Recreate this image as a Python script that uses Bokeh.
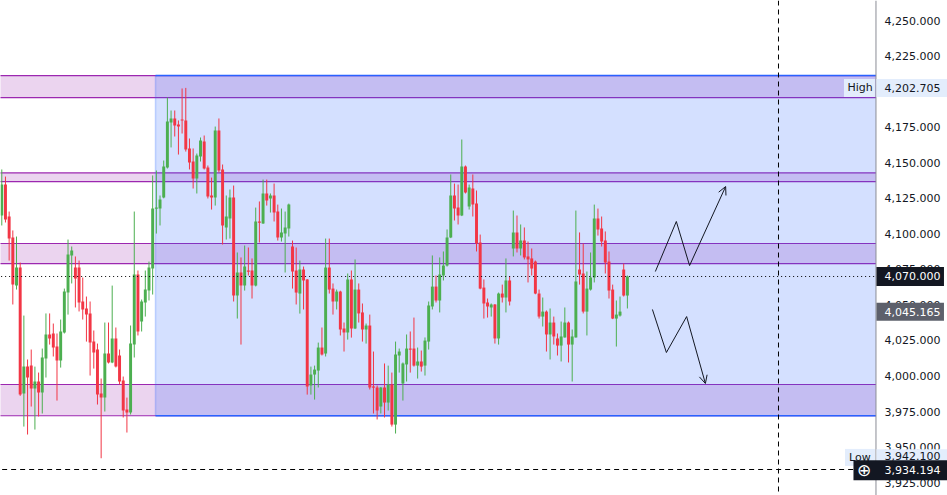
import numpy as np
from bokeh.plotting import figure
from bokeh.models import Range1d, Arrow, OpenHead, Span
from bokeh.core.properties import value
from bokeh.embed import file_html
from bokeh.resources import INLINE

# ---------------- data ----------------
opens = [4112.9, 4134.7, 4112.2, 4097.4, 4063.6, 4076.3, 3987.6, 4006.6, 4007.3, 3991.2,
         3996.1, 3988.3, 4012.3, 4029.2, 4029.9, 4020.7, 4010.9, 4030.6, 4058.7, 4084.8,
         4076.3, 4076.3, 4052.4, 4047.5, 4043.9, 4024.2, 4018.6, 3987.6, 3984.8, 4015.8,
         4009.5, 4026.4, 4014.4, 3996.8, 3976.4, 3974.3, 4022.1, 4071.4, 4038.3, 4051.7,
         4060.1, 4075.6, 4117.8, 4117.8, 4125.6, 4146.7, 4178.3, 4181.2, 4176.9, 4180.5,
         4179.8, 4160.1, 4150.9, 4138.9, 4154.4, 4165.0, 4146.7, 4127.0, 4125.6, 4172.7,
         4145.3, 4104.5, 4110.8, 4125.6, 4056.6, 4072.8, 4063.6, 4074.2, 4074.2, 4063.6,
         4108.7, 4107.3, 4128.4, 4124.9, 4127.0, 4115.7, 4097.4, 4100.2, 4103.8, 4091.1,
         4074.2, 4058.0, 4074.9, 4067.9, 3993.3, 4001.0, 4003.8, 4020.0, 4015.8, 4076.3,
         4061.5, 4052.4, 4059.4, 4033.4, 4030.6, 4067.9, 4033.4, 4060.8, 4044.7, 4032.7,
         4035.5, 3992.6, 3991.9, 3978.5, 3991.9, 3981.3, 3994.0, 3965.8, 4014.4, 3994.7,
         4008.1, 4019.3, 4019.3, 4007.3, 4010.2, 4007.3, 4024.2, 4048.9, 4062.9, 4053.1,
         4070.7, 4077.7, 4097.4, 4127.0, 4118.5, 4112.9, 4147.4, 4119.2, 4131.9, 4121.3,
         4093.9, 4062.2, 4051.7, 4048.2, 4050.3, 4026.4, 4058.0, 4055.2, 4067.2, 4089.7,
         4101.0, 4089.7, 4095.3, 4084.1, 4082.7, 4080.5, 4058.0, 4041.8, 4045.3, 4029.2,
         4037.6, 4026.4, 4021.4, 4027.1, 4037.6, 4022.1, 4027.1, 4074.9, 4072.1, 4045.3,
         4060.8, 4069.3, 4110.8, 4103.8, 4095.3, 4080.5, 4060.8, 4040.4, 4042.5, 4074.9,
         4056.6]
highs = [4145.3, 4140.3, 4115.7, 4102.4, 4098.1, 4079.8, 4042.5, 4011.6, 4018.6, 4006.6,
         4002.4, 4019.3, 4044.0, 4044.0, 4036.9, 4029.9, 4039.7, 4061.5, 4096.0, 4091.1,
         4084.1, 4081.2, 4069.3, 4055.9, 4052.4, 4032.0, 4022.8, 3998.2, 4037.6, 4037.6,
         4063.6, 4034.1, 4018.6, 3999.6, 3984.8, 4035.5, 4115.7, 4074.2, 4053.8, 4074.2,
         4080.5, 4141.1, 4144.6, 4127.0, 4151.6, 4195.9, 4186.8, 4186.8, 4179.8, 4202.3,
         4202.7, 4167.1, 4160.1, 4156.5, 4167.8, 4169.2, 4148.1, 4139.6, 4175.5, 4181.2,
         4148.8, 4127.0, 4131.2, 4134.0, 4086.9, 4083.4, 4091.8, 4090.4, 4082.7, 4118.5,
         4122.8, 4138.2, 4138.2, 4128.4, 4135.4, 4120.6, 4117.8, 4115.7, 4121.3, 4095.3,
         4090.4, 4081.2, 4077.0, 4068.2, 4006.6, 4007.3, 4023.5, 4034.1, 4096.7, 4096.7,
         4065.1, 4060.8, 4060.0, 4037.6, 4072.1, 4074.2, 4082.0, 4065.1, 4051.0, 4036.9,
         4043.2, 4017.2, 3993.3, 3992.2, 4008.8, 4007.3, 4002.4, 4024.2, 4019.3, 4009.5,
         4029.2, 4031.3, 4041.1, 4020.0, 4017.9, 4027.1, 4052.4, 4084.8, 4070.7, 4083.4,
         4087.6, 4103.1, 4141.8, 4135.4, 4134.7, 4166.4, 4148.1, 4134.7, 4141.8, 4130.5,
         4099.5, 4067.9, 4054.5, 4051.0, 4050.6, 4058.7, 4064.3, 4082.7, 4070.0, 4116.4,
         4112.9, 4106.6, 4104.5, 4094.6, 4089.7, 4081.2, 4060.8, 4055.2, 4046.1, 4047.5,
         4041.8, 4029.9, 4038.3, 4048.2, 4038.3, 4032.7, 4116.4, 4101.0, 4093.2, 4073.5,
         4086.9, 4120.6, 4117.8, 4112.2, 4101.7, 4087.6, 4064.3, 4053.1, 4055.9, 4079.1,
         4070.7]
lows = [4105.9, 4108.0, 4081.2, 4050.3, 4060.8, 3986.0, 3964.4, 3958.8, 3978.5, 3962.3,
        3971.5, 3973.6, 3998.9, 4022.1, 4013.7, 3982.7, 4005.9, 4029.9, 4043.2, 4065.1,
        4048.2, 4045.4, 4039.7, 4024.2, 4000.3, 4005.2, 3979.9, 3942.1, 3975.0, 4008.8,
        4009.0, 4006.0, 3994.0, 3970.8, 3960.2, 3972.9, 4013.0, 4028.5, 4031.3, 4041.8,
        4053.1, 4057.3, 4100.2, 4105.9, 4125.0, 4146.0, 4160.8, 4168.5, 4155.8, 4170.6,
        4157.9, 4145.3, 4131.9, 4128.4, 4150.9, 4145.3, 4124.9, 4117.1, 4119.9, 4143.2,
        4092.5, 4096.0, 4096.7, 4052.4, 4040.4, 4022.1, 4060.1, 4070.7, 4054.5, 4063.0,
        4093.9, 4107.0, 4119.9, 4115.0, 4108.7, 4095.3, 4094.6, 4072.8, 4098.1, 4061.5,
        4050.3, 4043.9, 4046.8, 3986.9, 3986.9, 3983.4, 3991.9, 4014.4, 4013.7, 4058.0,
        4043.2, 4046.8, 4028.5, 4017.2, 4025.6, 4027.0, 4033.0, 4037.6, 4024.2, 4022.8,
        3990.5, 3973.6, 3969.4, 3973.6, 3970.8, 3975.7, 3964.4, 3959.5, 4002.4, 3982.7,
        3996.1, 4002.4, 4006.6, 3998.2, 4003.1, 4000.3, 4018.6, 4046.8, 4051.7, 4044.7,
        4067.2, 4077.0, 4097.0, 4109.4, 4106.6, 4112.5, 4128.4, 4117.1, 4112.2, 4087.6,
        4061.0, 4040.4, 4041.1, 4041.8, 4022.8, 4022.1, 4051.7, 4044.7, 4049.6, 4084.1,
        4086.9, 4084.8, 4082.0, 4065.8, 4070.7, 4057.5, 4040.4, 4034.8, 4017.2, 4011.6,
        4022.1, 4014.4, 4010.2, 4027.0, 4009.5, 3996.1, 4027.0, 4064.3, 4044.0, 4028.5,
        4060.1, 4065.8, 4098.8, 4091.1, 4072.1, 4054.5, 4040.0, 4020.7, 4041.8, 4055.9,
        4047.5]
closes = [4134.7, 4110.1, 4096.7, 4064.3, 4076.3, 3986.9, 4006.6, 3998.9, 3991.2, 3996.1,
          3988.3, 4013.0, 4029.2, 4026.4, 4020.0, 4010.9, 4031.3, 4059.4, 4085.5, 4088.3,
          4068.6, 4051.7, 4046.8, 4043.2, 4023.5, 4016.5, 3986.9, 3984.8, 4015.8, 4009.5,
          4026.4, 4006.6, 3996.1, 3975.7, 3974.3, 4022.8, 4071.4, 4031.3, 4052.4, 4060.8,
          4076.3, 4117.8, 4118.5, 4124.2, 4147.4, 4179.1, 4181.2, 4176.2, 4175.5, 4179.8,
          4159.3, 4150.2, 4138.9, 4155.1, 4165.7, 4146.0, 4126.3, 4125.6, 4172.7, 4144.6,
          4105.9, 4112.2, 4125.6, 4056.6, 4072.8, 4063.6, 4077.0, 4073.5, 4063.6, 4108.7,
          4108.0, 4128.4, 4123.5, 4127.0, 4115.0, 4097.4, 4100.9, 4104.5, 4120.6, 4073.5,
          4058.7, 4074.9, 4067.2, 3992.6, 4001.0, 4004.5, 4020.0, 4015.1, 4076.3, 4060.8,
          4052.4, 4059.4, 4032.7, 4030.6, 4067.9, 4033.4, 4060.8, 4044.0, 4032.7, 4035.5,
          3991.9, 3991.9, 3975.7, 3991.9, 3981.3, 3994.0, 3965.8, 4015.1, 4017.2, 4008.8,
          4019.3, 4018.6, 4007.3, 4010.2, 4006.6, 4024.9, 4049.6, 4062.9, 4053.1, 4071.4,
          4077.7, 4097.4, 4127.0, 4117.8, 4112.9, 4147.4, 4129.1, 4132.6, 4120.6, 4093.2,
          4061.5, 4051.0, 4048.9, 4050.3, 4026.4, 4058.0, 4055.2, 4067.2, 4052.4, 4101.0,
          4089.7, 4095.3, 4083.4, 4082.0, 4075.6, 4058.0, 4041.8, 4045.3, 4029.2, 4037.6,
          4027.8, 4021.4, 4027.8, 4037.6, 4022.1, 4027.8, 4066.5, 4071.4, 4045.3, 4061.5,
          4069.3, 4110.8, 4103.1, 4094.6, 4079.8, 4060.1, 4040.4, 4043.2, 4045.3, 4056.6,
          4070.0]

zone_bottoms = [4195.9, 4136.8, 4079.1, 3972.0]
zone_tops = [4211.4, 4142.9, 4093.2, 3994.0]
box_start_bar = 41.77
box_bottom, box_top = 3972.0, 4211.4
vline_bar = 211.06
high_price = 4202.705
low_price = 3942.100
last_price = 4070.000
mid_price = 4045.165
dash_price = 3934.194
up_path_x = [177.6, 183.3, 186.9, 196.7]
up_path_y = [4073.5, 4108.7, 4077.7, 4133.3]
dn_path_x = [176.8, 180.6, 186.1, 191.2]
dn_path_y = [4046.8, 4016.5, 4041.8, 3994.7]
tick_values = list(range(3925, 4251, 25))
tick_labels = [f"{t:,.3f}" for t in tick_values]

# ---------------- figure ----------------
W, H = 947, 495
PX = 3.68                   # pixels per bar
X0 = -0.35
X1 = X0 + W / PX
Y0, Y1 = 3915.9, 4264.2
PY = H / (Y1 - Y0)          # pixels per price unit
AX = 237.55                 # bar position of the price-scale border

p = figure(width=W, height=H, x_range=Range1d(X0, X1), y_range=Range1d(Y0, Y1),
           x_axis_location=None, y_axis_location=None, output_backend="svg",
           toolbar_location=None, min_border=0,
           background_fill_color="white", border_fill_color="white")
p.outline_line_color = None
p.grid.visible = False

# zones
ZL = X0 - 2
p.quad(left=ZL, right=AX, bottom=zone_bottoms, top=zone_tops,
       fill_color="#9c27b0", fill_alpha=0.2, line_color=None)
edges = zone_bottoms + zone_tops
p.segment(x0=[ZL] * len(edges), y0=edges, x1=[AX] * len(edges), y1=edges,
          line_color="#9c27b0", line_width=1.2)

# blue rectangle
p.quad(left=[box_start_bar], right=[AX], bottom=[box_bottom], top=[box_top],
       fill_color="#2962ff", fill_alpha=0.2, line_color=None)
p.segment(x0=[box_start_bar, box_start_bar], y0=[box_bottom, box_top],
          x1=[AX, AX], y1=[box_bottom, box_top], line_color="#2962ff", line_width=1.5)
p.segment(x0=[box_start_bar], y0=[box_bottom], x1=[box_start_bar], y1=[box_top],
          line_color="#2962ff", line_alpha=0.25, line_width=1.5)

# candles
o = np.array(opens); h = np.array(highs); l = np.array(lows); c = np.array(closes)
idx = np.arange(len(o))
up = c >= o
cols = list(np.where(up, "#4caf50", "#f23645"))
top = np.maximum(o, c)
bot = np.minimum(o, c)
thin = (top - bot) < 0.8
bot = np.where(thin, top - 0.8, bot)
p.segment(x0=idx, y0=l, x1=idx, y1=h, line_color=cols, line_width=1)
p.vbar(x=idx, width=0.8, top=top, bottom=bot, fill_color=cols, line_color=None)

# reference lines
p.segment(x0=[ZL], y0=[last_price], x1=[AX], y1=[last_price], line_color="#000000",
          line_dash="1 3", line_width=1)
p.segment(x0=[ZL], y0=[dash_price], x1=[AX], y1=[dash_price], line_color="#000000",
          line_dash="5 4", line_width=1)
p.add_layout(Span(location=vline_bar, dimension="height", line_color="#000000",
                  line_dash="5 4", line_width=1))

# arrows
for xs, ys in ((up_path_x, up_path_y), (dn_path_x, dn_path_y)):
    p.line(xs[:-1], ys[:-1], line_color="#131722", line_width=1)
    p.add_layout(Arrow(end=OpenHead(size=8, line_color="#131722", line_width=1),
                       x_start=xs[-2], y_start=ys[-2], x_end=xs[-1], y_end=ys[-1],
                       line_color="#131722", line_width=1))

# price scale: border line and tick labels
p.segment(x0=[AX], y0=[Y0], x1=[AX], y1=[Y1], line_color="#8a8d96", line_width=1)
FONT = value("DejaVu Sans")
p.text(x=[AX] * len(tick_values), y=tick_values, text=tick_labels, x_offset=8.5,
       text_font=FONT, text_font_size=value("11px"), text_color="#131722",
       text_baseline="middle", text_align="left")

# price tags
def tag(y, left_px, right_px, h_px, bg):
    x_l = AX + left_px / PX
    x_r = AX + right_px / PX
    hh = h_px / 2 / PY
    p.quad(left=[x_l], right=[x_r], bottom=[y - hh], top=[y + hh],
           fill_color=bg, line_color=None)

def tag_text(y, txt, dx, fg, size="11px"):
    p.text(x=[AX], y=[y], text=[txt], x_offset=dx, text_font=FONT,
           text_font_size=value(size), text_color=fg, text_baseline="middle",
           text_align="left")

LB = "#e3edfc"
DK = "#131722"
# High
tag(high_price, -32, -1, 18, LB)
tag_text(high_price, "High", -28.5, DK)
tag(high_price, 0.5, 72, 18, LB)
tag_text(high_price, f"{high_price:,.3f}", 8.5, DK)
# Low
low_tag_y = low_price + 0.6
tag(low_tag_y, -31, -1, 17, LB)
tag_text(low_tag_y, "Low", -27, DK)
tag(low_price + 1.5, 0.5, 72, 14, LB)
tag_text(low_price + 1.5, f"{low_price:,.3f}", 8.5, DK)
# last price
tag(last_price, 0.5, 68, 19, DK)
tag_text(last_price, f"{last_price:,.3f}", 8.5, "white")
# second price line
tag(mid_price, 0.5, 68, 18, "#5d606b")
tag_text(mid_price, f"{mid_price:,.3f}", 8.5, "white")
# dashed-line price with icon
dash_tag_y = dash_price - 0.6
tag(dash_tag_y, -22.5, 72, 20, DK)
tag_text(dash_tag_y, "\u2295", -19, "white", "17px")
tag_text(dash_tag_y, f"{dash_price:,.3f}", 8.5, "white")

open("out.html", "w").write(file_html(p, INLINE))
